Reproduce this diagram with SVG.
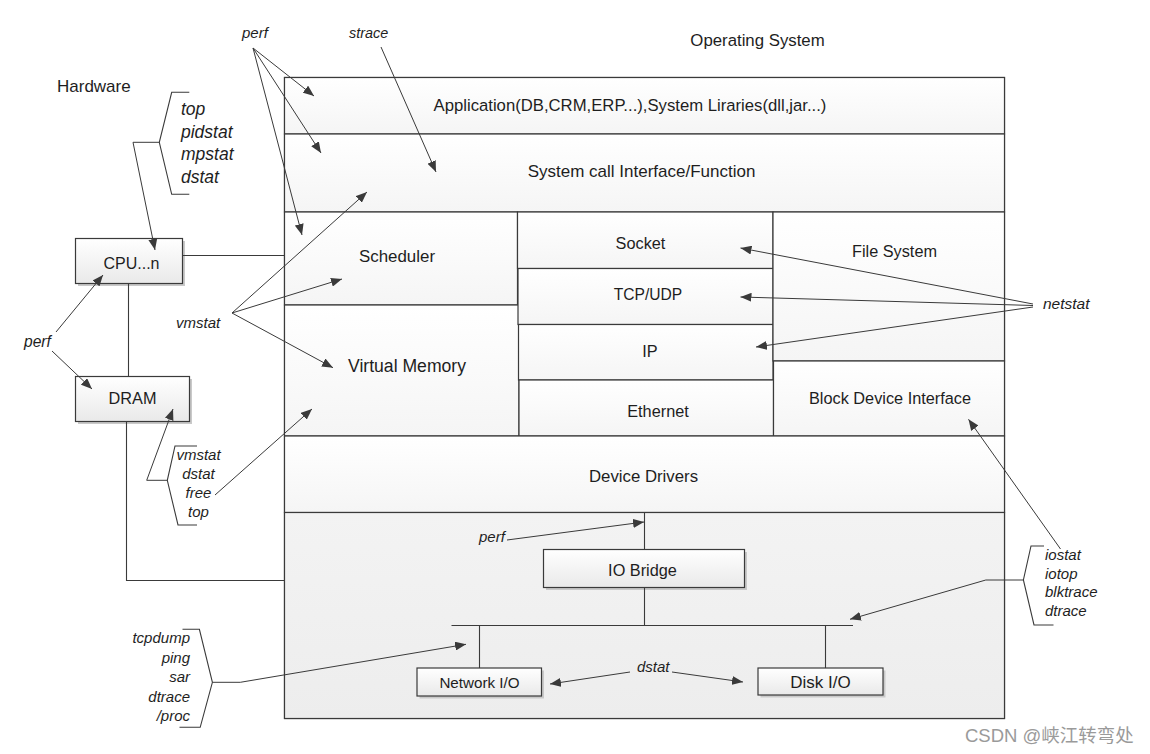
<svg xmlns="http://www.w3.org/2000/svg" width="1150" height="754" viewBox="0 0 1150 754">
<style>
  .t { font-family: "Liberation Sans", Arial, sans-serif; font-size: 16.3px; fill: #1e1e1e; }
  .m { text-anchor: middle; }
  .i { font-family: "Liberation Sans", Arial, sans-serif; font-style: italic; font-size: 15px; fill: #1e1e1e; }
  .big { font-size: 17.5px; }
  .e { text-anchor: end; }
  .cell { stroke: #3a3a3a; stroke-width: 1.2; fill: url(#rowg); }
  .box { stroke: #3a3a3a; stroke-width: 1.2; fill: url(#boxg); }
  .shadow { fill: #c9c9c9; }
  .ln { fill: none; stroke: #3a3a3a; stroke-width: 1.1; }
  .ar { fill: none; stroke: #3a3a3a; stroke-width: 1; marker-end: url(#ah); }
  .wm { font-family: "Liberation Sans", "Noto Sans CJK SC", sans-serif; font-size: 18.5px; fill: #9a9a9a; }
</style>
<defs>
  <linearGradient id="rowg" x1="0" y1="0" x2="0" y2="1">
    <stop offset="0" stop-color="#ffffff"/>
    <stop offset="1" stop-color="#f5f5f5"/>
  </linearGradient>
  <linearGradient id="botg" x1="0" y1="0" x2="0" y2="1">
    <stop offset="0" stop-color="#f3f3f3"/>
    <stop offset="1" stop-color="#ededed"/>
  </linearGradient>
  <linearGradient id="boxg" x1="0" y1="0" x2="0" y2="1">
    <stop offset="0" stop-color="#ffffff"/>
    <stop offset="1" stop-color="#e9e9e9"/>
  </linearGradient>
  <marker id="ah" markerUnits="userSpaceOnUse" markerWidth="12" markerHeight="9" refX="11" refY="4.5" orient="auto">
    <path d="M0,0 L11,4.5 L0,9 z" fill="#3a3a3a"/>
  </marker>
</defs>
<rect width="1150" height="754" fill="#ffffff"/>

<text class="t" x="757.5" y="46" text-anchor="middle" style="font-size:16.8px">Operating System</text>
<text class="t" x="57" y="92" style="font-size:17px">Hardware</text>

<g id="os">
  <rect class="cell" x="284.5" y="77.5" width="720" height="641"/>
  <g id="application">
    <rect class="cell" x="284.5" y="77.5" width="720" height="56.5"/>
    <text class="t m" x="630" y="111" style="font-size:16.7px">Application(DB,CRM,ERP...),System Liraries(dll,jar...)</text>
  </g>
  <g id="syscall">
    <rect class="cell" x="284.5" y="134" width="720" height="78"/>
    <text class="t m" x="641.5" y="177" style="font-size:17px">System call Interface/Function</text>
  </g>
  <g id="scheduler">
    <rect class="cell" x="284.5" y="212" width="233" height="93"/>
    <text class="t m" x="397" y="262" style="font-size:16.9px">Scheduler</text>
  </g>
  <g id="virtual-memory">
    <rect class="cell" x="284.5" y="305" width="234.5" height="131"/>
    <text class="t m" x="407" y="372" style="font-size:17.6px">Virtual Memory</text>
  </g>
  <g id="socket">
    <rect class="cell" x="517.5" y="212" width="255.5" height="56.5"/>
    <text class="t m" x="640.5" y="249">Socket</text>
  </g>
  <g id="tcpudp">
    <rect class="cell" x="518" y="268.5" width="255" height="56"/>
    <text class="t m" x="648" y="300" style="font-size:15.6px">TCP/UDP</text>
  </g>
  <g id="ip">
    <rect class="cell" x="518.5" y="324.5" width="254.5" height="55.5"/>
    <text class="t m" x="650" y="357">IP</text>
  </g>
  <g id="ethernet">
    <rect class="cell" x="519" y="380" width="254.5" height="56"/>
    <text class="t m" x="658" y="417">Ethernet</text>
  </g>
  <g id="file-system">
    <rect class="cell" x="773" y="212" width="231.5" height="149"/>
    <text class="t m" x="894.5" y="257">File System</text>
  </g>
  <g id="block-device">
    <rect class="cell" x="773.5" y="361" width="231" height="75"/>
    <text class="t m" x="890" y="404">Block Device Interface</text>
  </g>
  <g id="device-drivers">
    <rect class="cell" x="284.5" y="436" width="720" height="76.5"/>
    <text class="t m" x="643.5" y="482" style="font-size:16.8px">Device Drivers</text>
  </g>
  <g id="hardware-layer">
    <rect x="284.5" y="512.5" width="720" height="206" fill="url(#botg)" stroke="#3a3a3a" stroke-width="1.2"/>
  </g>
</g>

<g id="cpu">
  <rect class="shadow" x="78" y="241" width="107" height="45"/>
  <rect class="box" x="75.5" y="238.5" width="107" height="45"/>
  <text class="t m" x="131.5" y="269" style="font-size:16px">CPU...n</text>
</g>
<g id="dram">
  <rect class="shadow" x="78" y="379" width="114" height="45"/>
  <rect class="box" x="75.5" y="376.5" width="114" height="45"/>
  <text class="t m" x="132.5" y="404">DRAM</text>
</g>
<g id="io-bridge">
  <rect class="shadow" x="546" y="552" width="201" height="38"/>
  <rect class="box" x="543.5" y="549.5" width="201" height="38"/>
  <text class="t m" x="642.5" y="576">IO Bridge</text>
</g>
<g id="network-io">
  <rect class="shadow" x="419.5" y="670.5" width="124.5" height="28"/>
  <rect class="box" x="417" y="668" width="124.5" height="28"/>
  <text class="t m" x="479.5" y="688" style="font-size:15.2px">Network I/O</text>
</g>
<g id="disk-io">
  <rect class="shadow" x="760.5" y="670.5" width="125" height="27"/>
  <rect class="box" x="758" y="668" width="125" height="27"/>
  <text class="t m" x="820.5" y="688" style="font-size:17px">Disk I/O</text>
</g>

<g id="labels">
  <text class="i" x="242" y="38">perf</text>
  <text class="i" x="349" y="38" style="font-size:14.4px">strace</text>
  <text class="i big" x="181" y="115">top</text>
  <text class="i big" x="181" y="137.5">pidstat</text>
  <text class="i big" x="181" y="160">mpstat</text>
  <text class="i big" x="181" y="182.5">dstat</text>
  <text class="i" x="176" y="328">vmstat</text>
  <text class="i" x="24" y="347" style="font-size:15.6px">perf</text>
  <text class="i m" x="198.5" y="460">vmstat</text>
  <text class="i m" x="198.5" y="479">dstat</text>
  <text class="i m" x="198.5" y="498">free</text>
  <text class="i m" x="198.5" y="517">top</text>
  <text class="i e" x="190" y="643">tcpdump</text>
  <text class="i e" x="190" y="663">ping</text>
  <text class="i e" x="190" y="682">sar</text>
  <text class="i e" x="190" y="702">dtrace</text>
  <text class="i e" x="190" y="721">/proc</text>
  <text class="i" x="479" y="542">perf</text>
  <text class="i" x="637" y="672">dstat</text>
  <text class="i" x="1043" y="309" style="font-size:15.5px">netstat</text>
  <text class="i" x="1045" y="560">iostat</text>
  <text class="i" x="1045" y="578.5">iotop</text>
  <text class="i" x="1045" y="597">blktrace</text>
  <text class="i" x="1045" y="616">dtrace</text>
</g>

<g id="connectors">
  <!-- hardware wiring -->
  <path class="ln" d="M182.5,255.5 H284.5"/>
  <path class="ln" d="M128.5,283.5 V376.5"/>
  <path class="ln" d="M126.5,421.5 V580.5 H284.5"/>
  <!-- IO wiring -->
  <path class="ln" d="M644.5,512.5 V549.5"/>
  <path class="ln" d="M644.5,587.5 V625.5"/>
  <path class="ln" d="M451.5,625.5 H853"/>
  <path class="ln" d="M479.5,625.5 V668"/>
  <path class="ln" d="M825.5,625.5 V668"/>
  <!-- brackets -->
  <polyline class="ln" points="189.3,92.3 171.7,92.3 159.3,142.3 171.7,194.3 189.3,194.3"/>
  <polyline class="ln" points="197,446 175,446 167.3,480.3 178,525 197,525"/>
  <polyline class="ln" points="182.5,629.3 199.4,629.3 212.4,682.3 200.2,727.3 179.5,727.3"/>
  <polyline class="ln" points="1044,546 1031,546 1023.4,580 1034,625 1053.5,625"/>
  <!-- tool arrows -->
  <path class="ar" d="M159.3,142.3 H133 L155,250"/>
  <path class="ar" d="M167.3,480.3 H146.7 L173,409"/>
  <path class="ar" d="M212.4,682.3 H240.3 L466,644.3"/>
  <path class="ar" d="M1023.4,580 H985.8 L850,619.3"/>
  <path class="ar" d="M1060.5,549 L968.5,419.3"/>
  <path class="ar" d="M253,48 L314,96"/>
  <path class="ar" d="M253,48 L321,153"/>
  <path class="ar" d="M253,48 L302,235"/>
  <path class="ar" d="M381,47 L436,172"/>
  <path class="ar" d="M232,313 L367,192"/>
  <path class="ar" d="M232,313 L342,279"/>
  <path class="ar" d="M232,313 L333,367.7"/>
  <path class="ar" d="M56,332 L103,275"/>
  <path class="ar" d="M52,351 L92,389"/>
  <path class="ar" d="M215,495 L312,409"/>
  <path class="ar" d="M1033,304 L740.5,248"/>
  <path class="ar" d="M1033,305.5 L740.5,297"/>
  <path class="ar" d="M1033,307 L756,347"/>
  <path class="ar" d="M507,540 L644,522"/>
  <path class="ar" d="M630,672 L550,684"/>
  <path class="ar" d="M672,672 L743,682"/>
</g>

<text class="wm" x="965" y="742">CSDN @峡江转弯处</text>
</svg>
